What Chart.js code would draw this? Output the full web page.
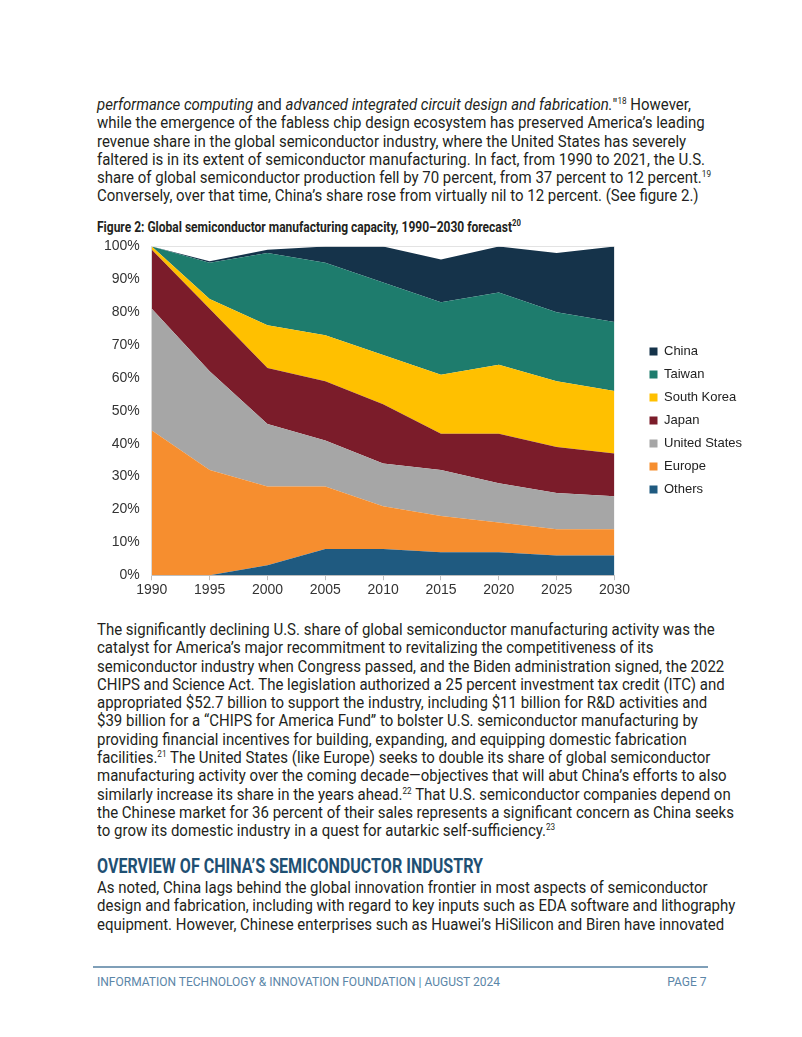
<!DOCTYPE html>
<html>
<head>
<meta charset="utf-8">
<script src="https://cdn.jsdelivr.net/npm/chart.js@4"></script>
<style>
  body { margin: 0; background: #fff; width: 802px; height: 1037px; position: relative; overflow: hidden; }
  .txt { position: absolute; left: 97px; font-family: Roboto, "Liberation Sans", sans-serif; color: #231f20; white-space: nowrap; transform-origin: 0 0; }
  .body { font-size: 16.5px; line-height: 18.3px; }
  sup { font-size: 9px; line-height: 0; vertical-align: 6px; }
  .caption { font-weight: bold; font-size: 14px; }
  .heading { font-weight: bold; font-size: 21px; color: #1f5073; }
  .rule { position: absolute; left: 93px; width: 615px; top: 966px; height: 1.5px; background: #7f9fb8; }
  .foot { position: absolute; top: 974px; font-family: Roboto, "Liberation Sans", sans-serif; font-size: 13px; color: #5b86a8; white-space: nowrap; transform-origin: 0 0; }
  #canvas-container { position: absolute; left: 92px; top: 226px; width: 666px; height: 375px; }
</style>
</head>
<body>

<div class="txt body" style="top:96px">
  <div><i>performance computing</i> and <i>advanced integrated circuit design and fabrication.</i>"<sup>18</sup> However,</div>
  <div>while the emergence of the fabless chip design ecosystem has preserved America’s leading</div>
  <div>revenue share in the global semiconductor industry, where the United States has severely</div>
  <div><span id="refLine">faltered is in its extent of semiconductor manufacturing. In fact, from 1990 to 2021, the U.S.</span></div>
  <div>share of global semiconductor production fell by 70 percent, from 37 percent to 12 percent.<sup>19</sup></div>
  <div>Conversely, over that time, China’s share rose from virtually nil to 12 percent. (See figure 2.)</div>
</div>

<div class="txt caption" style="top:219px"><span id="capText">Figure 2: Global semiconductor manufacturing capacity, 1990–2030 forecast</span><sup>20</sup></div>

<div id="canvas-container"></div>

<div class="txt body" style="top:621px">
  <div>The significantly declining U.S. share of global semiconductor manufacturing activity was the</div>
  <div>catalyst for America’s major recommitment to revitalizing the competitiveness of its</div>
  <div>semiconductor industry when Congress passed, and the Biden administration signed, the 2022</div>
  <div>CHIPS and Science Act. The legislation authorized a 25 percent investment tax credit (ITC) and</div>
  <div>appropriated $52.7 billion to support the industry, including $11 billion for R&amp;D activities and</div>
  <div>$39 billion for a “CHIPS for America Fund” to bolster U.S. semiconductor manufacturing by</div>
  <div>providing financial incentives for building, expanding, and equipping domestic fabrication</div>
  <div>facilities.<sup>21</sup> The United States (like Europe) seeks to double its share of global semiconductor</div>
  <div>manufacturing activity over the coming decade—objectives that will abut China’s efforts to also</div>
  <div>similarly increase its share in the years ahead.<sup>22</sup> That U.S. semiconductor companies depend on</div>
  <div>the Chinese market for 36 percent of their sales represents a significant concern as China seeks</div>
  <div>to grow its domestic industry in a quest for autarkic self-sufficiency.<sup>23</sup></div>
</div>

<div class="txt heading" style="top:854px"><span id="headText">OVERVIEW OF CHINA’S SEMICONDUCTOR INDUSTRY</span></div>

<div class="txt body" style="top:879px">
  <div>As noted, China lags behind the global innovation frontier in most aspects of semiconductor</div>
  <div>design and fabrication, including with regard to key inputs such as EDA software and lithography</div>
  <div>equipment. However, Chinese enterprises such as Huawei’s HiSilicon and Biren have innovated</div>
</div>

<div class="rule"></div>
<div class="foot" id="footLeft" style="left:97px"><span id="footText">INFORMATION TECHNOLOGY &amp; INNOVATION FOUNDATION | AUGUST 2024</span></div>
<div class="foot" id="footRight" style="right:95px">PAGE 7</div>

<script>
// anos do eixo x
const years = ['1990', '1995', '2000', '2005', '2010', '2015', '2020', '2025', '2030'];

// quotas (%), empilhadas de baixo para cima
const others       = [0, 0, 3, 8, 8, 7, 7, 6, 6];
const europe       = [44, 32, 24, 19, 13, 11, 9, 8, 8];
const unitedStates = [37, 30, 19, 14, 13, 14, 12, 11, 10];
const japan        = [18, 19, 17, 18, 18, 11, 15, 14, 13];
const southKorea   = [1, 3, 13, 14, 15, 18, 21, 20, 19];
const taiwan       = [0, 11, 22, 22, 22, 22, 22, 21, 21];
const china        = [0, 0.5, 1, 5, 11, 13, 14, 18, 23];

const seriesNames  = ['Others', 'Europe', 'United States', 'Japan', 'South Korea', 'Taiwan', 'China'];
const seriesValues = [others, europe, unitedStates, japan, southKorea, taiwan, china];
const seriesColors = ['#1f5a80', '#f68e2f', '#a6a6a6', '#7b1c2a', '#ffc000', '#1e7c6d', '#15334a'];

// estreita o texto (a fonte do PDF é condensada)
function squeeze(blocks, refEl, target) {
    const k = target / refEl.getBoundingClientRect().width;
    blocks.forEach(b => { b.style.transform = `scaleX(${k})`; });
    return k;
}
squeeze(document.querySelectorAll('.body'), document.getElementById('refLine'), 608);
squeeze([document.querySelector('.caption')], document.getElementById('capText'), 415);
squeeze([document.querySelector('.heading')], document.getElementById('headText'), 386);
const kf = squeeze([document.getElementById('footLeft')], document.getElementById('footText'), 403);
const footRight = document.getElementById('footRight');
footRight.style.transformOrigin = '100% 0';
footRight.style.transform = `scaleX(${kf})`;

const tickFont = { family: '"Liberation Sans", Arial, sans-serif', size: 14 };

function createChart() {
    const canvasContainer = document.getElementById('canvas-container');
    canvasContainer.innerHTML = `<canvas id="myChart"></canvas>`;
    const ctx = document.getElementById('myChart').getContext('2d');

    const datasets = seriesNames.map((name, i) => ({
        label: name,
        data: seriesValues[i],
        backgroundColor: seriesColors[i],
        borderColor: seriesColors[i],
        borderWidth: 0,
        pointRadius: 0,
        fill: i === 0 ? 'origin' : '-1',
        tension: 0
    }));

    return new Chart(ctx, {
        type: 'line',
        data: { labels: years, datasets: datasets },
        options: {
            responsive: true,
            maintainAspectRatio: false,
            animation: false,
            layout: { padding: { top: 2, bottom: 0, left: 0, right: 9 } },
            scales: {
                x: {
                    offset: false,
                    grid: { drawOnChartArea: false, drawTicks: true, tickLength: 5, color: '#bfbfbf' },
                    border: { color: '#bfbfbf' },
                    ticks: { font: tickFont, color: '#333', padding: 2, maxRotation: 0 }
                },
                y: {
                    stacked: true,
                    min: 0,
                    max: 100,
                    grid: {
                        drawTicks: false,
                        color: (c) => c.tick.value === 100 ? '#e3e3e3' : 'rgba(0,0,0,0)'
                    },
                    border: { color: '#d9d9d9' },
                    ticks: {
                        stepSize: 10,
                        font: tickFont,
                        color: '#333',
                        padding: 12,
                        callback: (v) => v + '%'
                    }
                },
                // eixo vazio só para afastar a legenda do gráfico
                gap: {
                    position: 'right',
                    min: 0,
                    max: 100,
                    grid: { display: false },
                    border: { display: false },
                    ticks: { display: false },
                    afterFit: (s) => { s.width = 25; }
                }
            },
            plugins: {
                legend: {
                    position: 'right',
                    reverse: true,
                    title: { display: true, text: ' ', padding: 0, font: { size: 10 } },
                    labels: {
                        boxWidth: 8,
                        boxHeight: 8,
                        padding: 10,
                        color: '#222',
                        font: { family: '"Liberation Sans", Arial, sans-serif', size: 13 }
                    }
                },
                tooltip: { enabled: false }
            }
        }
    });
}

let myChart = createChart();
</script>
</body>
</html>
